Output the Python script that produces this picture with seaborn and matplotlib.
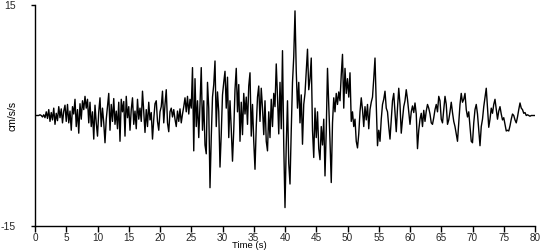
import numpy as np
import pandas as pd
import matplotlib
matplotlib.use("Agg")
import matplotlib.pyplot as plt
import seaborn as sns

# Acceleration samples (cm/s/s), one value every 0.2 s, in 5-second chunks
accel_00_05 = [0.0, 0.0, 0.0, 0.0, 0.1, 0.0, -0.2, 0.1, -0.3, 0.5, -0.4, 0.8, -0.8, 0.4, -0.6,
               1.0, -1.2, 0.3, -0.7, 1.2, -0.3, 0.9, -1.0, 0.6, 1.4]
accel_05_10 = [-0.8, 1.5, -1.0, 0.6, -2.0, 1.2, 0.2, 2.2, -1.5, 0.8, -2.4, 1.6, -0.5, 2.0, 0.8,
               2.6, 1.0, 2.2, -1.0, 1.8, -1.5, 0.5, -3.2, 1.4, -1.0]
accel_10_15 = [-2.8, 0.5, 2.4, -1.5, 1.0, -1.0, -3.7, -0.5, 1.2, 3.0, -2.0, 1.5, -0.8, 2.3, -1.2,
               0.6, -1.8, 1.8, -3.5, 2.2, 0.5, 1.9, -2.8, 2.6, -0.3]
accel_15_20 = [1.2, -2.0, 0.8, 2.4, -1.2, 0.6, -1.8, 2.2, -0.5, 1.0, -0.8, 3.3, 0.5, -2.3, 0.8,
               -1.5, 1.8, -0.6, 0.4, -3.2, -0.5, 1.6, 2.0, -0.8, -2.0]
accel_20_25 = [0.5, 1.2, 3.3, -1.0, 1.5, 3.5, -1.0, -2.2, 0.5, 1.0, -0.2, 0.8, -0.5, -1.5, 0.6,
               -0.8, 0.9, -1.0, 0.2, 1.2, 2.4, 0.5, 2.6, 0.2, 2.2]
accel_25_30 = [1.0, 6.5, -4.8, 5.0, -1.5, 2.0, -3.0, 1.5, 6.5, -2.0, 2.0, -4.0, -5.2, 4.5, 1.0,
               -9.8, -3.0, 2.5, 4.2, 7.4, -1.5, 3.2, 0.5, -7.0, -2.5]
accel_30_35 = [2.8, 4.5, 6.0, 1.0, 5.2, -3.0, 2.0, -1.8, -6.2, -2.0, 3.5, 6.4, 0.5, 4.2, -3.5,
               1.8, -2.6, 3.0, 0.2, 2.5, -1.2, 4.0, 5.8, -2.8, 1.5]
accel_35_40 = [-3.5, -7.3, -1.5, 2.5, 4.0, -0.8, 3.7, 1.0, -2.6, 2.0, -3.5, -4.8, 0.5, -3.0, 2.2,
               -1.5, 3.0, 1.2, 7.0, 2.5, -2.5, 4.5, -1.8, 8.8, -4.0]
accel_40_45 = [-12.5, -4.0, 2.0, -6.5, -9.3, -2.0, 4.5, 8.0, 14.2, 6.0, 1.0, 4.5, -1.0, 2.8, -3.9,
               1.5, 3.0, 6.0, 9.0, 3.5, 5.0, 7.8, -2.0, -5.7, 1.0]
accel_45_50 = [-3.0, 0.5, -4.5, -6.0, -1.5, -4.0, -0.5, -8.2, -2.0, 6.4, 1.5, -3.5, -9.1, -1.0, 2.4,
               0.5, 3.0, 1.5, 3.2, 2.0, 5.5, 8.3, 1.0, 6.4, 3.0]
accel_50_55 = [5.0, 2.5, 5.8, -0.8, 0.5, -1.5, -0.5, -3.5, -4.4, -2.5, 0.5, 2.4, 0.8, -1.5, 1.2,
               -0.6, 1.5, -1.8, 0.8, 1.8, 2.5, 5.0, 7.8, 1.5, -4.1]
accel_55_60 = [-2.0, -3.5, -0.5, 1.5, 2.2, 3.3, 1.0, 0.5, -1.5, -3.2, -0.5, 2.0, 3.0, 0.5, -2.2,
               1.0, 3.7, 1.5, -2.4, -0.5, 1.2, 2.0, 3.5, 2.2, 0.5]
accel_60_65 = [-1.2, 0.5, 1.3, 0.4, 1.7, 0.2, -4.5, -2.0, -0.5, 0.3, -1.5, 0.7, -0.8, 0.6, 1.5,
               1.0, 0.2, -1.0, -1.2, -0.3, 0.8, 1.5, 0.5, 2.6, 2.0]
accel_65_70 = [-0.5, -1.0, 0.8, 2.6, 1.5, -1.2, -0.6, 0.5, 1.8, 0.4, -0.8, -1.5, -2.5, -3.5, -1.0,
               1.5, 3.0, 1.8, 2.2, 3.0, 0.8, -0.2, 0.5, -1.5, -3.5]
accel_70_75 = [-3.7, -1.0, 0.8, 1.5, 0.2, -2.0, -4.1, -1.5, -0.5, 1.2, 2.5, 3.7, 1.0, -1.6, -0.5,
               1.0, 0.3, 1.5, 2.2, 0.8, -0.5, 0.6, 1.2, 0.2, -0.6]
accel_75_80 = [-0.3, -1.2, -2.1, -2.0, -2.1, -1.4, -0.5, 0.2, 0.0, -0.6, -1.0, -0.2, 0.8, 1.7, 1.0,
               0.8, 0.3, 0.4, 0.0, 0.1, 0.0, -0.1, 0.0, 0.0, 0.0, 0.0]

x_ticks = [0, 5, 10, 15, 20, 25, 30, 35, 40, 45, 50, 55, 60, 65, 70, 75, 80]
y_ticks = [-15, 15]

accel = np.concatenate([accel_00_05, accel_05_10, accel_10_15, accel_15_20, accel_20_25,
                        accel_25_30, accel_30_35, accel_35_40, accel_40_45, accel_45_50,
                        accel_50_55, accel_55_60, accel_60_65, accel_65_70, accel_70_75,
                        accel_75_80])
time_s = np.linspace(0, 80, len(accel))
df = pd.DataFrame({"Time (s)": time_s, "cm/s/s": accel})

sns.set_theme(style="white")
plt.rcParams["font.family"] = ["Liberation Sans", "DejaVu Sans"]

fig = plt.figure(figsize=(5.5, 2.5), dpi=100)
ax = fig.add_axes([35 / 550, 1 - 226 / 250, 500 / 550, 221 / 250])
sns.lineplot(data=df, x="Time (s)", y="cm/s/s", ax=ax, color="black",
             linewidth=1.0, estimator=None, sort=False)

ax.set_xlim(0, 80)
ax.set_ylim(-15, 15)
ax.set_xticks(x_ticks)
ax.set_yticks(y_ticks)
ax.set_xticklabels([str(v) for v in x_ticks])
ax.set_yticklabels([str(v) for v in y_ticks])

for side in ["top", "right"]:
    ax.spines[side].set_visible(False)
for side in ["left", "bottom"]:
    ax.spines[side].set_color("black")
    ax.spines[side].set_linewidth(1.0)

ax.tick_params(axis="x", direction="out", length=4, width=1, color="black",
               labelsize=7.2, pad=0.8, bottom=True)
ax.tick_params(axis="y", direction="out", length=3, width=1, color="black",
               labelsize=7.5, pad=11, left=True)

ax.set_xlabel("Time (s)", fontsize=6.8, color="black")
ax.set_ylabel("cm/s/s", fontsize=7.5, color="black")
ax.xaxis.set_label_coords(0.428, -0.088)
ax.xaxis.label.set_va("center")
ax.yaxis.set_label_coords(-0.045, 0.5)
ax.yaxis.label.set_va("center")
ax.grid(False)

fig.savefig("out.png", dpi=100, facecolor="white")
